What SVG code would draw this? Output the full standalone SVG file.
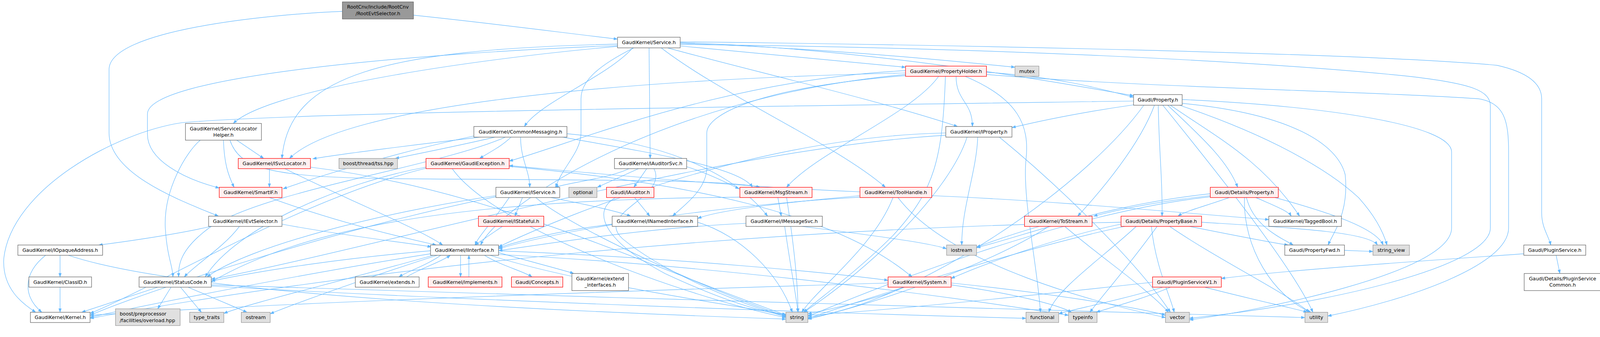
<svg xmlns="http://www.w3.org/2000/svg" width="4218" height="863" viewBox="0 0 4218 863">
<defs>
<marker id="a" markerWidth="11" markerHeight="8" refX="10" refY="4" orient="auto" markerUnits="userSpaceOnUse"><path d="M0,0 L11,4 L0,8 z" fill="#63B8FF"/></marker>
</defs>
<style>
.e path{fill:none;stroke:#63B8FF;stroke-width:1.2;marker-end:url(#a)}
text{font-family:"DejaVu Sans","Liberation Sans",sans-serif;font-size:12.8px;fill:#000;text-anchor:middle}
rect{stroke-width:1.3}
.w{fill:#fff;stroke:#666}
.r{fill:#FFF0F0;stroke:#FF0000}
.g{fill:#E0E0E0;stroke:#999}
.k{fill:#999;stroke:#666}
</style>
<rect width="4218" height="863" fill="#fff" stroke="none"/>
<g id="diagram" transform="scale(0.9728)">
<g id="edges" class="e">
<path d="M1088,40 C1300,62 1480,86 1625,103"/>
<path d="M901,30 C700,38 287,80 287,183 L287,350 C287,460 480,530 575,569"/>
<path d="M1790,121 C2000,140 2200,160 2383,177"/>
<path d="M1790,114 C2200,128 2550,165 2671,177"/>
<path d="M1790,112 C2300,128 2800,220 2983,252"/>
<path d="M1625,122 C1200,160 700,240 614,325"/>
<path d="M1665,126 C1600,200 1420,270 1380,333"/>
<path d="M1708,126 L1711,417"/>
<path d="M1757,126 C1950,180 2300,260 2520,333"/>
<path d="M1668,126 C1560,180 1529,220 1529,260 L1529,350 C1529,400 1480,440 1462,493"/>
<path d="M1625,116 C1000,130 760,200 742,417"/>
<path d="M1625,120 C1100,140 388,200 388,300 L388,353 C388,420 480,470 577,495"/>
<path d="M1740,126 C1900,250 2200,380 2330,493"/>
<path d="M1790,110 C2500,118 3600,140 3940,172 C4020,190 4057,220 4057,260 L4057,560 C4057,600 4075,620 4081,645"/>
<path d="M1790,117 C2600,125 3300,160 3700,200 C3880,220 3922,240 3922,280 L3922,600 C3922,700 3500,800 3130,838"/>
<path d="M2596,190 C2800,205 2900,235 2983,256"/>
<path d="M2516,201 C2516,267 2559,267 2559,333"/>
<path d="M2470,201 C2400,300 2150,400 2070,493"/>
<path d="M2383,192 C1600,210 900,280 762,417"/>
<path d="M2383,196 C1700,260 1300,560 1265,645"/>
<path d="M2383,186 C1900,210 1500,380 1340,424"/>
<path d="M2540,201 C2680,260 2710,330 2700,420 C2690,520 2730,700 2738,822"/>
<path d="M2488,201 C2480,420 2460,500 2350,620 C2250,720 2150,790 2115,822"/>
<path d="M2596,196 C3000,230 3600,240 3890,260 C3960,270 3970,320 3970,400 L3970,600 C3970,700 3700,790 3494,832"/>
<path d="M2383,199 C2000,230 1860,300 1860,350 L1860,440 C1860,500 1800,540 1770,569"/>
<path d="M2983,266 C2000,280 800,295 478,323 C300,350 30,500 10,680 C5,760 60,800 94,822"/>
<path d="M3073,277 C3150,350 3230,420 3257,493"/>
<path d="M3048,277 C3050,400 3060,480 3058,569"/>
<path d="M3038,277 C3000,380 2900,500 2836,569"/>
<path d="M3080,277 C3200,360 3320,420 3420,569"/>
<path d="M3104,277 C3350,360 3500,450 3575,520 C3620,570 3640,610 3650,645"/>
<path d="M3111,272 C3400,300 3520,380 3540,460 C3550,560 3510,610 3495,645"/>
<path d="M3010,277 C2850,500 2400,800 2126,836"/>
<path d="M3060,277 C3200,450 3400,700 3455,822"/>
<path d="M2983,276 C2850,295 2750,315 2663,336"/>
<path d="M3111,262 C3500,280 3820,330 3820,400 L3820,600 C3820,720 3300,820 3130,842"/>
<path d="M623,369 L694,417"/>
<path d="M588,369 C590,430 600,460 616,493"/>
<path d="M527,369 C490,400 430,500 435,600 C440,680 455,700 455,729"/>
<path d="M605,369 C630,440 700,465 1000,470 C1500,475 1900,470 2000,493"/>
<path d="M1265,361 C1100,380 900,405 823,418"/>
<path d="M1303,361 C1200,385 1100,405 1040,417"/>
<path d="M1345,361 C1320,385 1290,400 1262,417"/>
<path d="M1370,361 C1370,420 1394,450 1394,493"/>
<path d="M1480,361 C1700,400 1950,440 1980,493"/>
<path d="M1492,352 C1800,380 1950,480 2020,569"/>
<path d="M1247,358 C1050,400 850,460 745,497"/>
<path d="M1330,361 C1150,440 700,500 550,600 C470,660 470,700 470,729"/>
<path d="M2489,350 C2000,360 1500,560 1312,650"/>
<path d="M2489,356 C1900,390 1000,650 556,735"/>
<path d="M2545,361 C2500,500 2300,700 2115,822"/>
<path d="M2573,361 C2570,450 2530,550 2531,645"/>
<path d="M2630,361 C2800,500 3000,700 3080,822"/>
<path d="M709,444 L709,493"/>
<path d="M750,444 C900,520 1100,600 1165,645"/>
<path d="M817,440 C1300,500 1700,700 2070,830"/>
<path d="M1121,440 C900,480 620,600 540,729"/>
<path d="M1121,443 C800,520 400,760 237,825"/>
<path d="M1190,444 C1300,600 1800,780 2068,836"/>
<path d="M1340,438 C1800,480 2200,560 2400,729"/>
<path d="M1655,444 C1600,470 1500,480 1460,493"/>
<path d="M1680,444 L1572,493"/>
<path d="M1702,444 L1668,493"/>
<path d="M1721,444 C1760,520 1560,560 1640,630 C1750,720 1950,800 2068,834"/>
<path d="M1807,439 C1860,455 1910,480 1945,497"/>
<path d="M709,520 C900,590 1080,630 1148,645"/>
<path d="M1375,520 L1355,569"/>
<path d="M1450,520 C1550,540 1620,555 1660,569"/>
<path d="M1305,515 C1000,560 650,650 545,729"/>
<path d="M1305,518 C900,600 400,760 237,830"/>
<path d="M1410,520 C1500,600 1900,780 2068,832"/>
<path d="M1340,520 C1300,580 1260,620 1250,645"/>
<path d="M1670,520 L1710,569"/>
<path d="M1620,520 C1550,560 1600,640 1750,720 C1900,790 2000,820 2068,830"/>
<path d="M2047,520 L2056,569"/>
<path d="M1947,519 C1200,525 800,600 556,742"/>
<path d="M2070,520 C2090,650 2100,750 2100,822"/>
<path d="M2263,515 C2100,530 1900,550 1836,575"/>
<path d="M2263,519 C1900,540 1500,600 1312,655"/>
<path d="M2263,505 C1900,490 1500,450 1340,436"/>
<path d="M2350,520 C2300,650 2150,760 2110,822"/>
<path d="M2452,515 C2800,530 3100,560 3339,578"/>
<path d="M2363,520 C2500,700 2900,800 3067,836"/>
<path d="M3185,515 C3050,530 2950,550 2878,569"/>
<path d="M3235,520 C3180,540 3120,555 3100,569"/>
<path d="M3280,520 C3300,600 3380,630 3403,645"/>
<path d="M3305,520 C3350,540 3390,555 3398,569"/>
<path d="M3355,520 C3500,560 3620,600 3640,645"/>
<path d="M3275,520 C3270,650 3350,780 3450,822"/>
<path d="M3185,518 C2800,560 2300,760 2126,833"/>
<path d="M3185,510 C2900,540 2700,620 2570,652"/>
<path d="M555,596 C450,620 300,640 260,645"/>
<path d="M630,596 C590,650 510,700 485,729"/>
<path d="M742,590 C900,620 1080,640 1135,650"/>
<path d="M1322,596 L1250,645"/>
<path d="M1611,590 C1450,610 1350,640 1312,652"/>
<path d="M1836,585 C1950,620 2050,720 2085,822"/>
<path d="M1963,588 C1700,600 1450,640 1312,660"/>
<path d="M2110,596 C2300,620 2450,640 2491,655"/>
<path d="M2065,596 C2080,700 2095,780 2100,822"/>
<path d="M2735,596 C2650,620 2600,640 2570,650"/>
<path d="M2760,596 C2600,700 2300,800 2126,840"/>
<path d="M2802,596 C2900,680 3020,760 3075,822"/>
<path d="M3130,596 C3250,620 3350,640 3390,645"/>
<path d="M3162,585 C3400,600 3600,610 3625,645"/>
<path d="M3078,596 C3200,680 3400,780 3445,822"/>
<path d="M3045,596 C2970,700 2900,780 2868,822"/>
<path d="M2950,590 C2800,620 2600,690 2503,733"/>
<path d="M2960,596 C2700,650 2300,780 2126,838"/>
<path d="M2950,585 C2000,600 1000,700 237,838"/>
<path d="M3030,596 C3040,700 3080,780 3090,822"/>
<path d="M2990,596 C2900,680 2780,760 2760,822"/>
<path d="M158,672 L158,729"/>
<path d="M120,672 C60,720 60,780 110,822"/>
<path d="M180,672 C500,780 1500,820 2068,840"/>
<path d="M1160,672 C1120,700 1070,715 1050,729"/>
<path d="M1070,729 C1110,705 1160,690 1185,672"/>
<path d="M1212,672 L1212,729"/>
<path d="M1234,729 L1234,672"/>
<path d="M1275,672 C1320,700 1380,715 1400,729"/>
<path d="M1312,665 C1400,690 1480,710 1510,720"/>
<path d="M1312,660 C1800,680 2200,720 2337,738"/>
<path d="M1133,660 C900,680 700,710 556,740"/>
<path d="M1133,668 C800,720 400,800 237,835"/>
<path d="M1150,672 C1000,720 800,790 711,826"/>
<path d="M1140,672 C900,740 650,800 589,825"/>
<path d="M1312,670 C1900,700 2500,780 2812,830"/>
<path d="M1290,672 C1500,740 1900,800 2068,828"/>
<path d="M415,756 L215,822"/>
<path d="M450,756 L415,813"/>
<path d="M475,756 L530,822"/>
<path d="M495,756 L650,822"/>
<path d="M556,750 C1500,780 2800,820 3434,836"/>
<path d="M556,753 C1200,790 2200,825 2700,838"/>
<path d="M158,756 L158,822"/>
<path d="M2337,745 C1500,770 700,800 237,830"/>
<path d="M2380,756 C2300,790 2180,815 2126,826"/>
<path d="M2503,750 C2650,770 2780,800 2820,822"/>
<path d="M2503,745 C2750,770 3000,810 3067,830"/>
<path d="M3033,743 C2700,780 2300,820 2126,830"/>
<path d="M3080,756 C3000,790 2920,810 2885,822"/>
<path d="M3170,756 C3300,790 3400,810 3440,822"/>
<path d="M3060,756 C2950,790 2820,815 2786,826"/>
<path d="M4010,668 C3700,690 3400,710 3214,733"/>
<path d="M4095,672 L4105,720"/>
<path d="M3538,659 L3613,662"/>
</g>
<g id="n-root"><rect class="k" x="901" y="5" width="187" height="45"/><text x="994.5" y="23">RootCnv/include/RootCnv</text><text x="994.5" y="40">/RootEvtSelector.h</text></g>
<g id="n-service"><rect class="w" x="1625" y="98" width="165" height="28"/><text x="1707.5" y="116.5">GaudiKernel/Service.h</text></g>
<g id="n-propertyholder"><rect class="r" x="2383" y="174" width="213" height="27"/><text x="2489.5" y="192">GaudiKernel/PropertyHolder.h</text></g>
<g id="n-mutex"><rect class="g" x="2671" y="174" width="63" height="27"/><text x="2702.5" y="192">mutex</text></g>
<g id="n-property"><rect class="w" x="2983" y="249" width="128" height="28"/><text x="3047" y="267.5">Gaudi/Property.h</text></g>
<g id="n-slh"><rect class="w" x="488" y="325" width="200" height="44"/><text x="588" y="343">GaudiKernel/ServiceLocator</text><text x="588" y="360">Helper.h</text></g>
<g id="n-commonmessaging"><rect class="w" x="1247" y="333" width="245" height="28"/><text x="1369.5" y="351.5">GaudiKernel/CommonMessaging.h</text></g>
<g id="n-iproperty"><rect class="w" x="2489" y="333" width="174" height="28"/><text x="2576" y="351.5">GaudiKernel/IProperty.h</text></g>
<g id="n-isvclocator"><rect class="r" x="627" y="417" width="190" height="27"/><text x="722" y="435">GaudiKernel/ISvcLocator.h</text></g>
<g id="n-tss"><rect class="g" x="892" y="417" width="154" height="27"/><text x="969" y="435">boost/thread/tss.hpp</text></g>
<g id="n-gaudiexception"><rect class="r" x="1121" y="417" width="219" height="27"/><text x="1230.5" y="435">GaudiKernel/GaudiException.h</text></g>
<g id="n-iauditorsvc"><rect class="w" x="1617" y="417" width="190" height="27"/><text x="1712" y="435">GaudiKernel/IAuditorSvc.h</text></g>
<g id="n-smartif"><rect class="r" x="577" y="493" width="165" height="27"/><text x="659.5" y="511">GaudiKernel/SmartIF.h</text></g>
<g id="n-iservice"><rect class="w" x="1305" y="493" width="168" height="27"/><text x="1389" y="511">GaudiKernel/IService.h</text></g>
<g id="n-optional"><rect class="g" x="1497" y="493" width="74" height="27"/><text x="1534" y="511">optional</text></g>
<g id="n-iauditor"><rect class="r" x="1596" y="493" width="125" height="27"/><text x="1658.5" y="511">Gaudi/IAuditor.h</text></g>
<g id="n-msgstream"><rect class="r" x="1947" y="493" width="190" height="27"/><text x="2042" y="511">GaudiKernel/MsgStream.h</text></g>
<g id="n-toolhandle"><rect class="r" x="2263" y="493" width="189" height="27"/><text x="2357.5" y="511">GaudiKernel/ToolHandle.h</text></g>
<g id="n-detailsproperty"><rect class="r" x="3185" y="493" width="179" height="27"/><text x="3274.5" y="511">Gaudi/Details/Property.h</text></g>
<g id="n-ievtselector"><rect class="w" x="549" y="569" width="193" height="27"/><text x="645.5" y="587">GaudiKernel/IEvtSelector.h</text></g>
<g id="n-istateful"><rect class="r" x="1259" y="569" width="172" height="27"/><text x="1345" y="587">GaudiKernel/IStateful.h</text></g>
<g id="n-inamedinterface"><rect class="w" x="1611" y="569" width="225" height="27"/><text x="1723.5" y="587">GaudiKernel/INamedInterface.h</text></g>
<g id="n-imessagesvc"><rect class="w" x="1963" y="569" width="201" height="27"/><text x="2063.5" y="587">GaudiKernel/IMessageSvc.h</text></g>
<g id="n-tostream"><rect class="r" x="2696" y="569" width="178" height="27"/><text x="2785" y="587">GaudiKernel/ToStream.h</text></g>
<g id="n-propertybase"><rect class="r" x="2950" y="569" width="212" height="27"/><text x="3056" y="587">Gaudi/Details/PropertyBase.h</text></g>
<g id="n-taggedbool"><rect class="w" x="3339" y="569" width="191" height="27"/><text x="3434.5" y="587">GaudiKernel/TaggedBool.h</text></g>
<g id="n-iopaqueaddress"><rect class="w" x="47" y="645" width="223" height="27"/><text x="158.5" y="663">GaudiKernel/IOpaqueAddress.h</text></g>
<g id="n-iinterface"><rect class="w" x="1133" y="645" width="179" height="27"/><text x="1222.5" y="663">GaudiKernel/IInterface.h</text></g>
<g id="n-iostream"><rect class="g" x="2491" y="645" width="79" height="27"/><text x="2530.5" y="663">iostream</text></g>
<g id="n-propertyfwd"><rect class="w" x="3381" y="645" width="157" height="27"/><text x="3459.5" y="663">Gaudi/PropertyFwd.h</text></g>
<g id="n-string_view"><rect class="g" x="3613" y="645" width="96" height="27"/><text x="3661" y="663">string_view</text></g>
<g id="n-pluginservice"><rect class="w" x="4010" y="645" width="163" height="27"/><text x="4091.5" y="663">Gaudi/PluginService.h</text></g>
<g id="n-classid"><rect class="w" x="76" y="729" width="165" height="27"/><text x="158.5" y="747">GaudiKernel/ClassID.h</text></g>
<g id="n-statuscode"><rect class="w" x="366" y="729" width="190" height="27"/><text x="461" y="747">GaudiKernel/StatusCode.h</text></g>
<g id="n-extends"><rect class="w" x="935" y="729" width="168" height="27"/><text x="1019" y="747">GaudiKernel/extends.h</text></g>
<g id="n-implements"><rect class="r" x="1127" y="729" width="194" height="27"/><text x="1224" y="747">GaudiKernel/implements.h</text></g>
<g id="n-concepts"><rect class="r" x="1346" y="729" width="135" height="27"/><text x="1413.5" y="747">Gaudi/Concepts.h</text></g>
<g id="n-extend_interfaces"><rect class="w" x="1505" y="720" width="149" height="45"/><text x="1579.5" y="738">GaudiKernel/extend</text><text x="1579.5" y="755">_interfaces.h</text></g>
<g id="n-system"><rect class="r" x="2337" y="729" width="166" height="27"/><text x="2420" y="747">GaudiKernel/System.h</text></g>
<g id="n-pluginservicev1"><rect class="r" x="3033" y="729" width="181" height="27"/><text x="3123.5" y="747">Gaudi/PluginServiceV1.h</text></g>
<g id="n-pluginservicecommon"><rect class="w" x="4011" y="720" width="202" height="45"/><text x="4112" y="738">Gaudi/Details/PluginService</text><text x="4112" y="755">Common.h</text></g>
<g id="n-kernel"><rect class="w" x="80" y="822" width="157" height="27"/><text x="158.5" y="840">GaudiKernel/Kernel.h</text></g>
<g id="n-boost"><rect class="g" x="304" y="813" width="170" height="44"/><text x="315" y="831" style="text-anchor:start">boost/preprocessor</text><text x="315" y="848" style="text-anchor:start">/facilities/overload.hpp</text></g>
<g id="n-type_traits"><rect class="g" x="499" y="822" width="90" height="27"/><text x="544" y="840">type_traits</text></g>
<g id="n-ostream"><rect class="g" x="635" y="822" width="76" height="27"/><text x="673" y="840">ostream</text></g>
<g id="n-string"><rect class="g" x="2068" y="822" width="58" height="27"/><text x="2097" y="840">string</text></g>
<g id="n-functional"><rect class="g" x="2700" y="822" width="86" height="27"/><text x="2743" y="840">functional</text></g>
<g id="n-typeinfo"><rect class="g" x="2812" y="822" width="75" height="27"/><text x="2849.5" y="840">typeinfo</text></g>
<g id="n-vector"><rect class="g" x="3067" y="822" width="63" height="27"/><text x="3098.5" y="840">vector</text></g>
<g id="n-utility"><rect class="g" x="3434" y="822" width="60" height="27"/><text x="3464" y="840">utility</text></g>
</g>
</svg>
